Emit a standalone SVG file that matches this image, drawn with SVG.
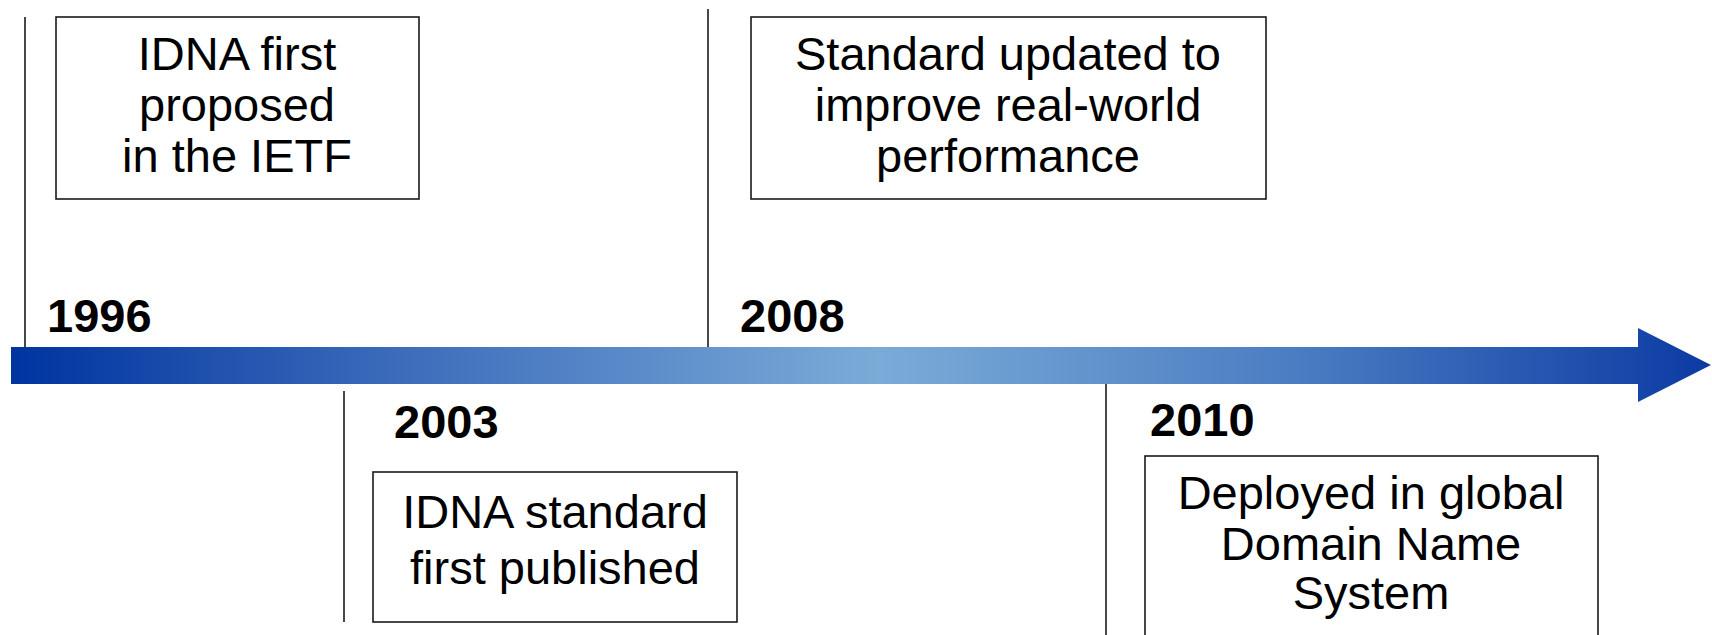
<svg xmlns="http://www.w3.org/2000/svg" width="1712" height="635" viewBox="0 0 1712 635">
<style>
.box{fill:#fff;stroke:#1a1a1a;stroke-width:1.6}
.tick{stroke:#1a1a1a;stroke-width:1.6;fill:none}
.t{font-family:"Liberation Sans",Arial,sans-serif;font-size:47px;fill:#000;text-anchor:middle}
.yr{font-family:"Liberation Sans",Arial,sans-serif;font-size:47px;font-weight:bold;fill:#000}
</style>
<defs>
<linearGradient id="g" x1="11" y1="0" x2="1711" y2="0" gradientUnits="userSpaceOnUse">
<stop offset="0" stop-color="#0034a0"/>
<stop offset="0.24" stop-color="#3f6fbc"/>
<stop offset="0.51" stop-color="#7aabd7"/>
<stop offset="0.76" stop-color="#4a7cc2"/>
<stop offset="1" stop-color="#0b3ba3"/>
</linearGradient>
</defs>
<g id="timeline">
<polygon points="11,347 1638,347 1638,328 1711,365 1638,402 1638,384 11,384" fill="url(#g)"/>
</g>
<g id="connectors">
<line class="tick" x1="25" y1="17" x2="25" y2="347"/>
<line class="tick" x1="344" y1="391" x2="344" y2="622"/>
<line class="tick" x1="708" y1="9" x2="708" y2="347"/>
<line class="tick" x1="1106" y1="384" x2="1106" y2="635"/>
</g>
<g id="e1996">
<text class="yr" x="47" y="332">1996</text>
<rect class="box" x="56" y="17" width="363" height="182"/>
<text class="t" x="237" y="70">IDNA first</text>
<text class="t" x="237" y="121">proposed</text>
<text class="t" x="237" y="172">in the IETF</text>
</g>
<g id="e2003">
<text class="yr" x="394" y="438">2003</text>
<rect class="box" x="373" y="472" width="364" height="150"/>
<text class="t" x="555" y="528">IDNA standard</text>
<text class="t" x="555" y="584">first published</text>
</g>
<g id="e2008">
<text class="yr" x="740" y="332">2008</text>
<rect class="box" x="751" y="17" width="515" height="182"/>
<text class="t" x="1008" y="70">Standard updated to</text>
<text class="t" x="1008" y="121">improve real-world</text>
<text class="t" x="1008" y="172">performance</text>
</g>
<g id="e2010">
<text class="yr" x="1150" y="436">2010</text>
<rect class="box" x="1145" y="456" width="453" height="190"/>
<text class="t" x="1371" y="509">Deployed in global</text>
<text class="t" x="1371" y="560">Domain Name</text>
<text class="t" x="1371" y="609">System</text>
</g>
</svg>
